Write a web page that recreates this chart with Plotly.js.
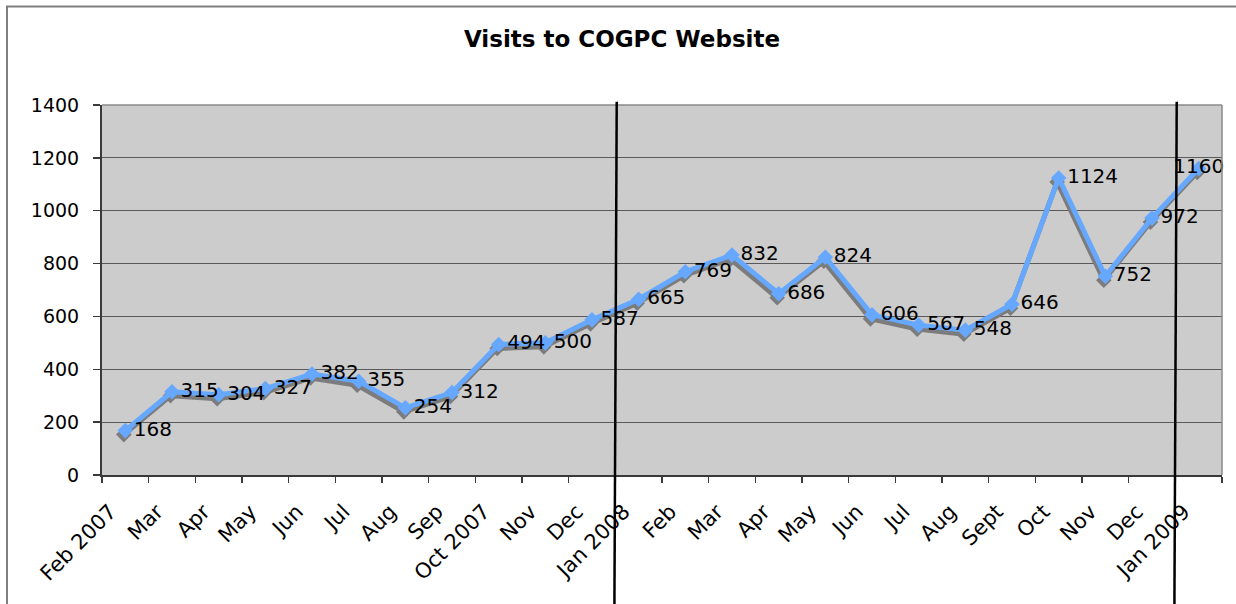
<!DOCTYPE html>
<html>
<head>
<meta charset="utf-8">
<script src="https://cdn.plot.ly/plotly-3.0.1.min.js"></script>
<style>html,body{margin:0;padding:0;background:#fff;}#chart{width:1236px;height:604px;}</style>
</head>
<body>
<div id="chart"></div>
<script>
// ---- data ----
const categories = ['Feb 2007','Mar','Apr','May','Jun','Jul','Aug','Sep','Oct 2007','Nov','Dec',
  'Jan 2008','Feb','Mar','Apr','May','Jun','Jul','Aug','Sept','Oct','Nov','Dec','Jan 2009'];
const visits = [168,315,304,327,382,355,254,312,494,500,587,665,769,832,686,824,606,567,548,646,1124,752,972,1160];
const yearStarts = ['Jan 2008','Jan 2009'];
const chartTitle = 'Visits to COGPC Website';

// ---- layout constants ----
const W = 1236, H = 604;
const M = {l:102, r:14, t:105, b:129};
const plotW = W - M.l - M.r, plotH = H - M.t - M.b;
const yMax = 1400;
const xr = [-0.5, categories.length - 0.5];
const pxX = (xr[1]-xr[0]) / plotW, pxY = yMax / plotH;
const shadowDx = -1.5, shadowDy = 4; // px

const idx = categories.map((c,i)=>i);
const blue = '#66a8ff';
const shadow = '#7c7c7c';
const fam = 'DejaVu Sans, Verdana, sans-serif';
const yFont = {family:fam, size:19, color:'#000'};
const xFont = {family:fam, size:21, color:'#000'};
const labelFont = {family:fam, size:20, color:'#000'};

const shadowTrace = {
  x: idx, y: visits, xaxis:'x', yaxis:'y', type:'scatter', mode:'lines+markers',
  line:{color:shadow, width:5}, marker:{symbol:'diamond', size:12, color:shadow},
  hoverinfo:'skip'
};
const textPos = visits.map((v,i)=> i === visits.length-1 ? 'middle center' : 'middle right');
const mainTrace = {
  x: idx, y: visits, xaxis:'x2', yaxis:'y2', type:'scatter', mode:'lines+markers+text',
  line:{color:blue, width:5}, marker:{symbol:'diamond', size:12, color:blue},
  text: visits.map(String), textposition: textPos, textfont: labelFont, cliponaxis:false
};

const shapes = [];
// outer chart border (top & left visible)
shapes.push({type:'rect', xref:'paper', yref:'paper', x0:(7-M.l)/plotW, x1:1.2, y0:-0.6, y1:(plotH+M.t-6.5)/plotH,
  line:{color:'#7f7f7f', width:2}, layer:'below'});
// plot area top & right border
shapes.push({type:'line', xref:'paper', yref:'paper', x0:0, x1:1, y0:1, y1:1, line:{color:'#8a8a8a', width:1.5}});
shapes.push({type:'line', xref:'paper', yref:'paper', x0:1, x1:1, y0:0, y1:1, line:{color:'#8a8a8a', width:1.5}});
// year separators
yearStarts.forEach(lbl=>{
  const b = categories.indexOf(lbl) - 0.5;
  shapes.push({type:'line', xref:'x2', yref:'paper', x0:b+0.03, y0:1.009, x1:b-0.02, y1:-0.36,
    line:{color:'#000', width:2.5}, layer:'above'});
});

const layout = {
  width:W, height:H, margin:{l:M.l, r:M.r, t:M.t, b:M.b, pad:0},
  paper_bgcolor:'#fff', plot_bgcolor:'#cccccc', showlegend:false,
  title:{text:chartTitle, font:{family:fam, size:23, weight:'bold', color:'#000'},
    x:622/W, xanchor:'center', xref:'container', y:1-39/H, yanchor:'middle', yref:'container'},
  xaxis:{range:[xr[0]-shadowDx*pxX, xr[1]-shadowDx*pxX], visible:false, fixedrange:true},
  yaxis:{range:[shadowDy*pxY, yMax+shadowDy*pxY], visible:false, fixedrange:true},
  xaxis2:{overlaying:'x', anchor:'y2', range:xr, tickmode:'array', tickvals:idx, ticktext:categories,
    tickangle:-45, ticks:'', showgrid:false, zeroline:false, showline:true, linecolor:'#3a3a3a', linewidth:2,
    tickfont:xFont, ticklabelshift:-15, ticklabelstandoff:14,
    minor:{tickmode:'linear', tick0:-0.5, dtick:1, ticks:'outside', ticklen:6, tickcolor:'#3a3a3a', tickwidth:1.5, showgrid:false}},
  yaxis2:{overlaying:'y', anchor:'x2', range:[0,yMax], dtick:200, tick0:0, ticks:'outside', ticklen:7,
    tickcolor:'#3a3a3a', tickwidth:1.5, showgrid:true, gridcolor:'#5a5a5a', gridwidth:1.2, zeroline:false,
    showline:true, linecolor:'#3a3a3a', linewidth:2, tickfont:yFont, ticklabelstandoff:10},
  shapes: shapes
};

Plotly.newPlot('chart', [shadowTrace, mainTrace], layout, {displayModeBar:false, staticPlot:true});
</script>
</body>
</html>
